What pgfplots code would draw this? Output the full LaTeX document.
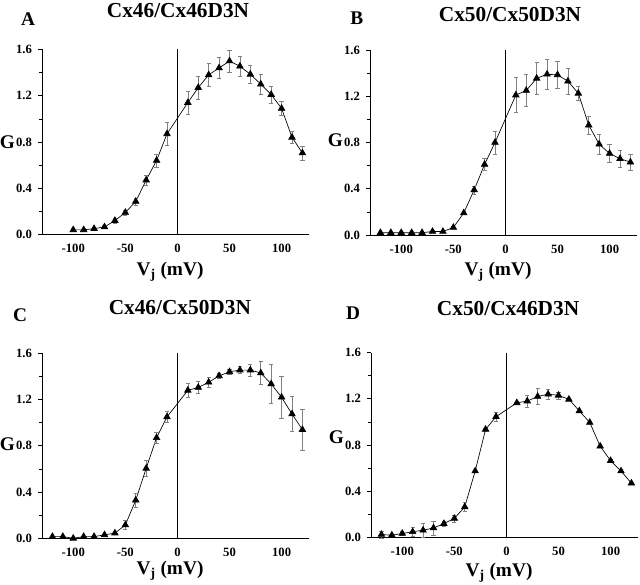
\documentclass[border=0pt]{standalone}
\usepackage{fontspec}
\setmainfont{Liberation Serif}
\usepackage{pgfplots}
\pgfplotsset{compat=1.18}
\usepackage{pgfplotstable}

\pgfplotstableread{
x y e
-100 0.040 0.010
-90 0.040 0.010
-80 0.050 0.010
-70 0.065 0.015
-60 0.120 0.020
-50 0.190 0.020
-40 0.285 0.030
-30 0.470 0.045
-20 0.640 0.055
-10 0.870 0.100
10 1.140 0.100
20 1.270 0.100
30 1.380 0.100
40 1.440 0.090
50 1.500 0.095
60 1.455 0.085
70 1.385 0.080
80 1.300 0.085
90 1.210 0.075
100 1.090 0.060
110 0.840 0.055
120 0.705 0.060
}\dataA

\pgfplotstableread{
x y e
-120 0.020 0.005
-110 0.020 0.005
-100 0.020 0.005
-90 0.020 0.005
-80 0.020 0.005
-70 0.030 0.008
-60 0.030 0.008
-50 0.065 0.010
-40 0.190 0.015
-30 0.390 0.035
-20 0.610 0.050
-10 0.800 0.100
10 1.210 0.150
20 1.250 0.140
30 1.355 0.140
40 1.390 0.130
50 1.385 0.120
60 1.330 0.110
70 1.225 0.060
80 0.950 0.080
90 0.785 0.090
100 0.705 0.080
110 0.660 0.070
120 0.630 0.070
}\dataB

\pgfplotstableread{
x y e
-120 0.015 0.005
-110 0.015 0.005
-100 0.000 0.005
-90 0.015 0.005
-80 0.015 0.005
-70 0.030 0.008
-60 0.045 0.010
-50 0.115 0.040
-40 0.330 0.060
-30 0.605 0.070
-20 0.870 0.050
-10 1.050 0.050
10 1.280 0.060
20 1.305 0.050
30 1.350 0.040
40 1.405 0.020
50 1.440 0.020
60 1.455 0.030
70 1.455 0.050
80 1.430 0.100
90 1.335 0.170
100 1.220 0.180
110 1.075 0.150
120 0.940 0.180
}\dataC

\pgfplotstableread{
x y e
-120 0.026 0.030
-110 0.020 0.010
-100 0.035 0.015
-90 0.050 0.040
-80 0.063 0.060
-70 0.083 0.060
-60 0.120 0.020
-50 0.165 0.030
-40 0.265 0.040
-30 0.575 0.010
-20 0.935 0.010
-10 1.045 0.040
10 1.165 0.010
20 1.180 0.050
30 1.220 0.070
40 1.240 0.040
50 1.230 0.030
60 1.195 0.010
70 1.095 0.010
80 0.995 0.010
90 0.790 0.010
100 0.665 0.010
110 0.575 0.010
120 0.470 0.010
}\dataD

\pgfplotsset{
  panel/.style={
    width=200pt, height=138.75pt, scale only axis,
    xmin=-130, xmax=126, ymin=0, ymax=1.6,
    axis x line*=bottom, axis y line*=left,
    xtick={-100,-50,0,50,100}, xticklabels={-100,-50,0,50,100},
    ytick={0,0.4,0.8,1.2,1.6}, yticklabels={0.0,0.4,0.8,1.2,1.6},
    minor ytick={0.2,0.6,1.0,1.4},
    tick align=outside,
    major tick length=3pt, minor tick length=2pt,
    xtick style={draw=none},
    ticklabel style={font=\bfseries\fontsize{9.5}{11}\selectfont},
    xticklabel style={yshift=-1pt},
    yticklabel style={xshift=-1pt},
    clip=false,
    axis line style={line width=0.6pt},
    every tick/.style={line width=0.5pt, black},
  },
  curve/.style={
    black, line width=0.5pt, mark=triangle*, mark size=2.8pt,
    mark options={fill=black, solid},
    error bars/.cd, y dir=both, y explicit,
    error bar style={gray, line width=0.4pt},
    error mark options={gray, rotate=90, mark size=1.6pt, line width=0.4pt},
  },
}
\newcommand{\ttl}[1]{\bfseries\fontsize{16}{18}\selectfont #1}
\newcommand{\lbl}[1]{\bfseries\fontsize{14.5}{16}\selectfont #1}

\begin{document}
\begin{tikzpicture}
\useasboundingbox (0,0) rectangle (480pt,438.75pt);

% Panel A
\begin{axis}[panel, at={(31.5pt,262.9pt)}, anchor=south west]
\addplot[curve] table[x=x,y=y,y error=e]{\dataA};
\draw[line width=0.6pt] (axis cs:0,0) -- (axis cs:0,1.6);
\node at (rel axis cs:0.51,1.21) {\ttl{Cx46/Cx46D3N}};
\node at (rel axis cs:-0.052,1.164) {\lbl{A}};
\node at (rel axis cs:-0.13,0.5) {\lbl{G}};
\node at (rel axis cs:0.48,-0.2) {\lbl{V\textsubscript{j} (mV)}};
\end{axis}

% Panel B
\begin{axis}[panel, at={(277.5pt,262.5pt)}, anchor=south west]
\addplot[curve] table[x=x,y=y,y error=e]{\dataB};
\draw[line width=0.6pt] (axis cs:0,0) -- (axis cs:0,1.6);
\node at (rel axis cs:0.525,1.19) {\ttl{Cx50/Cx50D3N}};
\node at (rel axis cs:-0.049,1.173) {\lbl{B}};
\node at (rel axis cs:-0.13,0.51) {\lbl{G}};
\node at (rel axis cs:0.48,-0.2) {\lbl{V\textsubscript{j} (mV)}};
\end{axis}

% Panel C
\begin{axis}[panel, at={(31.5pt,35.0pt)}, anchor=south west]
\addplot[curve] table[x=x,y=y,y error=e]{\dataC};
\draw[line width=0.6pt] (axis cs:0,0) -- (axis cs:0,1.6);
\node at (rel axis cs:0.517,1.245) {\ttl{Cx46/Cx50D3N}};
\node at (rel axis cs:-0.082,1.207) {\lbl{C}};
\node at (rel axis cs:-0.13,0.51) {\lbl{G}};
\node at (rel axis cs:0.48,-0.175) {\lbl{V\textsubscript{j} (mV)}};
\end{axis}

% Panel D
\begin{axis}[panel, at={(278.25pt,35.6pt)}, anchor=south west]
\addplot[curve] table[x=x,y=y,y error=e]{\dataD};
\draw[line width=0.6pt] (axis cs:0,0) -- (axis cs:0,1.6);
\node at (rel axis cs:0.514,1.24) {\ttl{Cx50/Cx46D3N}};
\node at (rel axis cs:-0.067,1.212) {\lbl{D}};
\node at (rel axis cs:-0.13,0.54) {\lbl{G}};
\node at (rel axis cs:0.48,-0.19) {\lbl{V\textsubscript{j} (mV)}};
\end{axis}
\end{tikzpicture}
\end{document}
